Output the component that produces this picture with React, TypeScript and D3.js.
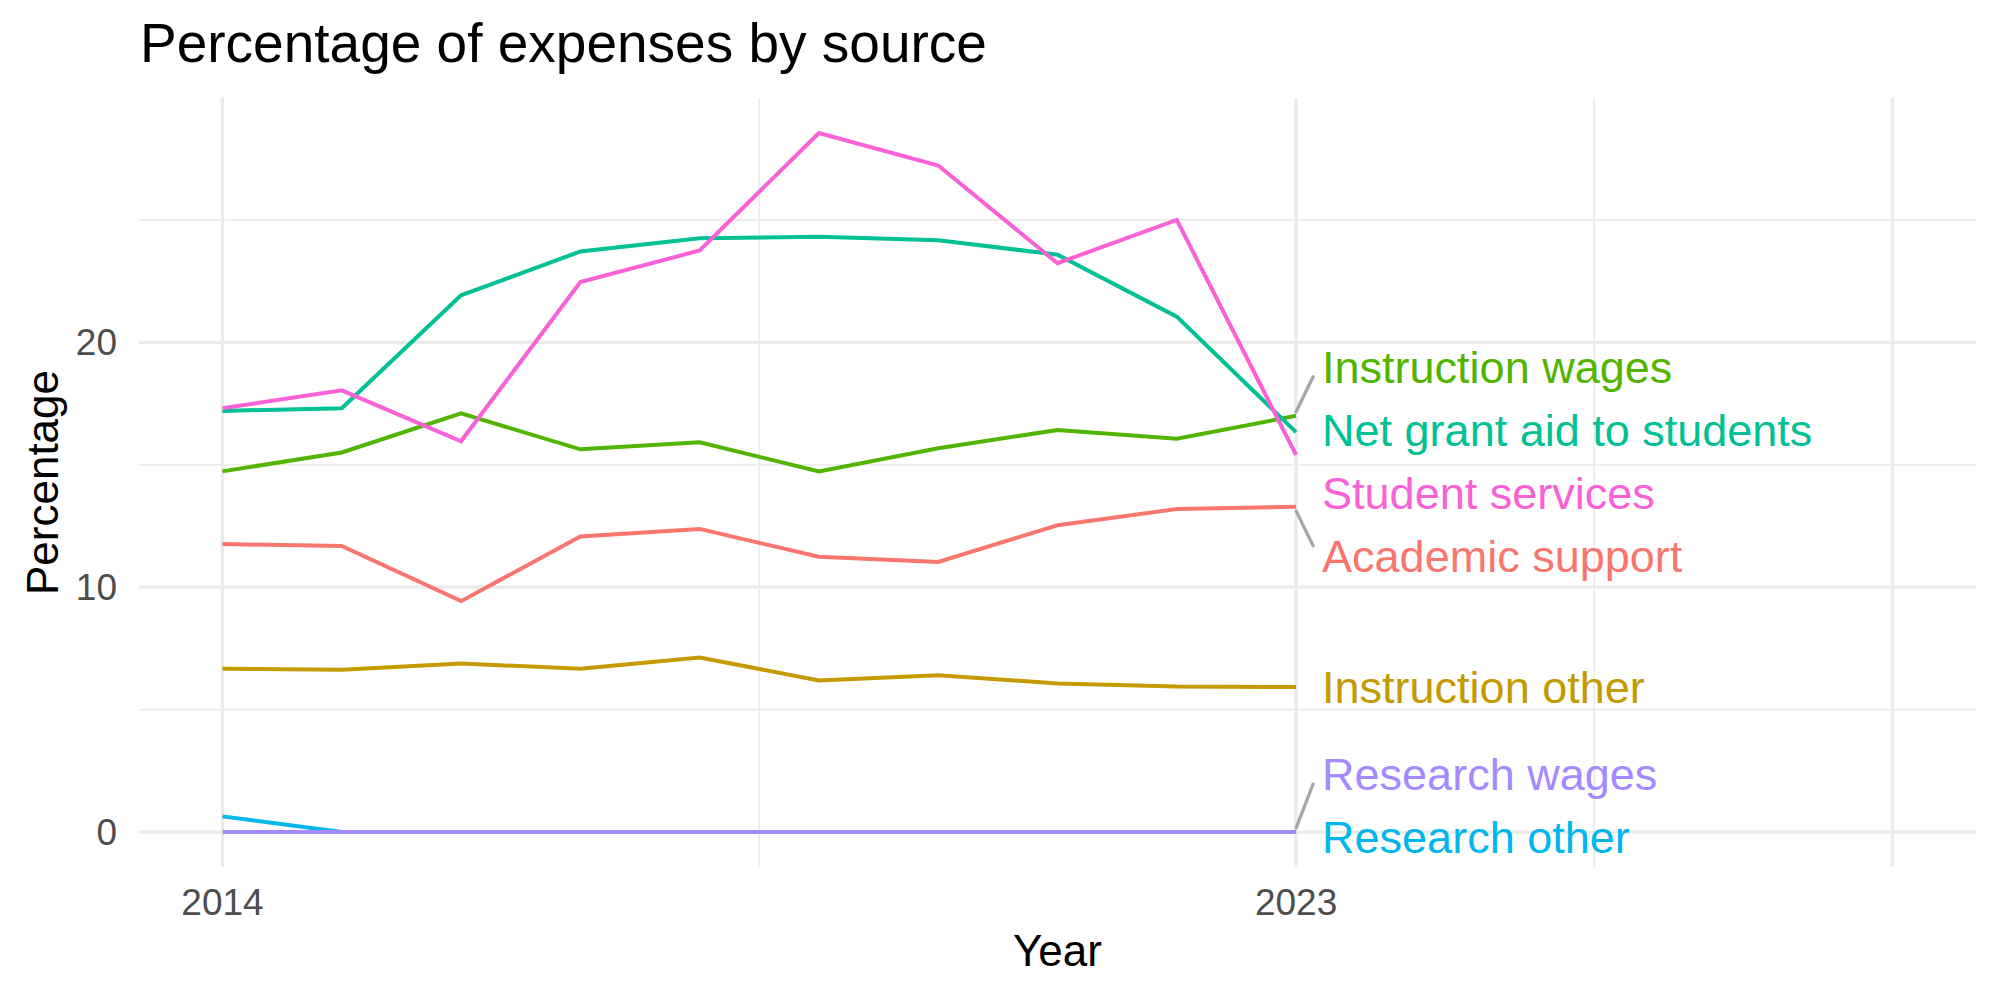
import React from 'react';
import * as d3 from 'd3';

// expense shares (%) by year, one array per source
const years = [2014, 2015, 2016, 2017, 2018, 2019, 2020, 2021, 2022, 2023];
const academicSupport = [11.76, 11.68, 9.43, 12.07, 12.38, 11.24, 11.03, 12.53, 13.19, 13.28];
const instructionOther = [6.67, 6.63, 6.88, 6.67, 7.13, 6.19, 6.4, 6.07, 5.94, 5.92];
const instructionWages = [14.73, 15.5, 17.1, 15.63, 15.92, 14.73, 15.67, 16.42, 16.06, 17.0];
const netGrantAid = [17.2, 17.31, 21.92, 23.71, 24.25, 24.31, 24.17, 23.58, 21.05, 16.33];
const researchOther = [0.64, 0, 0, 0, 0, 0, 0, 0, 0, 0];
const researchWages = [0, 0, 0, 0, 0, 0, 0, 0, 0, 0];
const studentServices = [17.31, 18.04, 15.96, 22.46, 23.75, 28.55, 27.22, 23.23, 25.0, 15.4];

const seriesNames = [
  'Academic support',
  'Instruction other',
  'Instruction wages',
  'Net grant aid to students',
  'Research other',
  'Research wages',
  'Student services',
];
const seriesValues = [
  academicSupport,
  instructionOther,
  instructionWages,
  netGrantAid,
  researchOther,
  researchWages,
  studentServices,
];
// ggplot hue palette, 7 levels
const palette = ['#F8766D', '#C49A00', '#53B400', '#00C094', '#00B6EB', '#A58AFF', '#FB61D7'];

const xMajor = [2014, 2023, 2028];
const xMinor = [2018.5, 2025.5];
const xTickLabels = ['2014', '2023', ''];
const yMajor = [0, 10, 20];
const yMinor = [5, 15, 25];
const xLimit = 2028;

const FONT = '"Liberation Sans", Arial, Helvetica, sans-serif';
const W = 2000;
const H = 1000;
const panel = {left: 139, right: 1976, top: 98, bottom: 867};

function expand(lo: number, hi: number) {
  const pad = (hi - lo) * 0.05;
  return [lo - pad, hi + pad];
}

export default function App() {
  const yMax = d3.max(seriesValues.flat()) as number;
  const xScale = d3
    .scaleLinear()
    .domain(expand(years[0], xLimit))
    .range([panel.left, panel.right]);
  const yScale = d3
    .scaleLinear()
    .domain(expand(0, yMax))
    .range([panel.bottom, panel.top]);

  const line = d3
    .line<number>()
    .x((d, i) => xScale(years[i]))
    .y(d => yScale(d));

  // simple label repel: stack overlapping end labels around the middle of
  // their targets, keep them inside the panel
  const gap = 63;
  const halfH = 30;
  const lastYear = years[years.length - 1];
  const ends = seriesNames
    .map((name, i) => ({
      name,
      i,
      py: yScale(seriesValues[i][seriesValues[i].length - 1]),
    }))
    .sort((a, b) => a.py - b.py || b.i - a.i);

  type Cluster = {items: typeof ends; center: number};
  const clusters: Cluster[] = ends.map(e => ({items: [e], center: e.py}));
  const clampCenter = (c: Cluster) => {
    const half = ((c.items.length - 1) * gap) / 2;
    c.center = Math.max(panel.top + halfH + half, Math.min(panel.bottom - halfH - half, c.center));
  };
  clusters.forEach(clampCenter);
  let merged = true;
  while (merged) {
    merged = false;
    for (let k = 0; k < clusters.length - 1; k++) {
      const a = clusters[k];
      const b = clusters[k + 1];
      const aBottom = a.center + ((a.items.length - 1) * gap) / 2;
      const bTop = b.center - ((b.items.length - 1) * gap) / 2;
      if (bTop - aBottom < gap) {
        const items = a.items.concat(b.items);
        const c = {items, center: (items[0].py + items[items.length - 1].py) / 2};
        clampCenter(c);
        clusters.splice(k, 2, c);
        merged = true;
        break;
      }
    }
  }
  const labels = clusters.flatMap(c =>
    c.items.map((e, j) => ({
      ...e,
      ly: c.center + (j - (c.items.length - 1) / 2) * gap,
    }))
  );

  const xEnd = xScale(lastYear);
  const labelX = xEnd + 26;

  return (
    <svg
      width={W}
      height={H}
      style={{position: 'absolute', left: 0, top: 0, background: '#fff'}}
      fontFamily={FONT}
    >
      <rect width={W} height={H} fill="#fff" />

      {/* grid */}
      {yMinor.map(v => (
        <line key={'ym' + v} x1={panel.left} x2={panel.right} y1={yScale(v)} y2={yScale(v)} stroke="#EBEBEB" strokeWidth={1.7} />
      ))}
      {xMinor.map(v => (
        <line key={'xm' + v} x1={xScale(v)} x2={xScale(v)} y1={panel.top} y2={panel.bottom} stroke="#EBEBEB" strokeWidth={1.7} />
      ))}
      {yMajor.map(v => (
        <line key={'yM' + v} x1={panel.left} x2={panel.right} y1={yScale(v)} y2={yScale(v)} stroke="#EBEBEB" strokeWidth={3.3} />
      ))}
      {xMajor.map(v => (
        <line key={'xM' + v} x1={xScale(v)} x2={xScale(v)} y1={panel.top} y2={panel.bottom} stroke="#EBEBEB" strokeWidth={3.3} />
      ))}

      {/* series */}
      {seriesValues.map((vals, i) => (
        <path key={seriesNames[i]} d={line(vals) as string} fill="none" stroke={palette[i]} strokeWidth={4} />
      ))}

      {/* leader segments, only for labels pushed well away from their line */}
      {labels
        .filter(l => Math.abs(l.ly - l.py) > 44)
        .map(l => {
          const s = Math.sign(l.py - l.ly);
          return (
            <line
              key={'seg' + l.name}
              x1={xEnd}
              y1={l.py - s * 4}
              x2={xEnd + 17}
              y2={l.ly + s * 10}
              stroke="#A6A6A6"
              strokeWidth={3.3}
              strokeLinecap="round"
            />
          );
        })}

      {/* end labels */}
      {labels.map(l => (
        <text key={'lab' + l.name} x={labelX} y={l.ly} dy="0.35em" fontSize={45} fill={palette[l.i]}>
          {l.name}
        </text>
      ))}

      {/* axis tick labels */}
      {yMajor.map(v => (
        <text key={'yt' + v} x={117} y={yScale(v)} dy="0.35em" textAnchor="end" fontSize={37} fill="#4D4D4D">
          {v}
        </text>
      ))}
      {xMajor.map((v, i) => (
        <text key={'xt' + v} x={xScale(v)} y={915} textAnchor="middle" fontSize={37} fill="#4D4D4D">
          {xTickLabels[i]}
        </text>
      ))}

      {/* axis titles */}
      <text x={(panel.left + panel.right) / 2} y={966} textAnchor="middle" fontSize={44} fill="#000">
        Year
      </text>
      <text
        transform={`translate(58, ${(panel.top + panel.bottom) / 2}) rotate(-90)`}
        textAnchor="middle"
        fontSize={44}
        fill="#000"
      >
        Percentage
      </text>

      <text x={140} y={62} fontSize={55} fill="#000">
        Percentage of expenses by source
      </text>
    </svg>
  );
}
